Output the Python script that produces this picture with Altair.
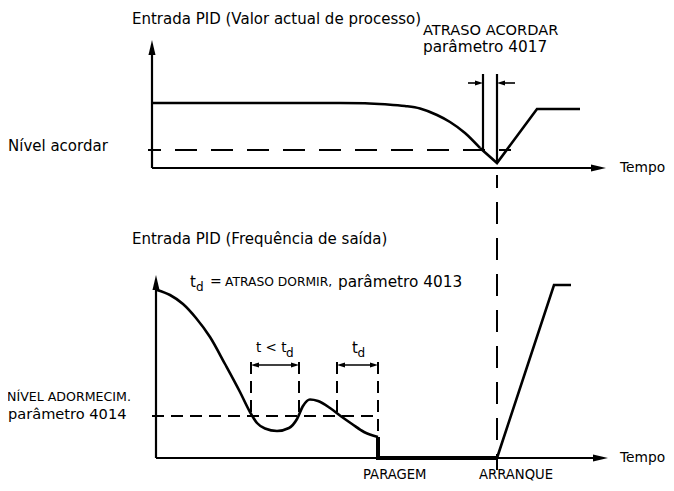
import altair as alt
import pandas as pd

FONT = "DejaVu Sans"

# ---------------- data (diagram coordinates: x right, y down) ----------------
# Top panel: process value curve (smooth part, then linear V and plateau)
top_curve_x = [152, 340, 365, 385, 405, 420, 437, 450, 465, 480]
top_curve_y = [103, 103, 103.3, 104.3, 106, 108.5, 115, 122, 133, 148]
top_lin_x = [480, 497, 537, 580]
top_lin_y = [148, 163, 109, 109]

# Bottom panel: output frequency curve (smooth), stop segment, restart ramp
bot_curve_x = [157, 170, 183, 196, 210, 225, 240, 250, 257, 265, 277, 289, 297, 303, 310, 318, 330, 342, 352, 364, 378]
bot_curve_y = [290, 295, 304, 318, 337, 364, 392, 412, 423, 428.5, 431, 428, 419, 406, 399.5, 401, 408, 417, 424, 432, 437]
stop_x = [378, 378, 497]
stop_y = [437, 458, 458]
ramp_x = [497, 554, 571]
ramp_y = [458, 285, 285]

# axes (x0, y0, x1, y1)
axes_lines = [
    (152, 168, 152, 52),   # top y axis
    (152, 168, 593, 168),  # top x axis
    (156, 458, 156, 287),  # bottom y axis
    (156, 458, 595, 458),  # bottom x axis
]
# wake-up delay markers
marker_lines = [
    (483, 74, 483, 150.6),
    (497, 74, 497, 163),
]
thin_lines = [
    (468, 83, 479, 83),
    (501, 83, 515, 83),
    (254, 365, 296, 365),
    (340, 365, 375, 365),
]
long_dashed = [
    (148, 150, 511, 150),  # wake-up level
    (497, 175, 497, 470),  # start marker
]
short_dashed = [
    (152, 416, 378, 416),  # sleep level
    (251, 362, 251, 416),
    (299, 362, 299, 416),
    (337, 362, 337, 416),
    (378, 362, 378, 436),
]

# arrowheads: tip x, tip y, angle
big_heads_x = [152, 606, 156, 608]
big_heads_y = [40, 168, 275, 458]
big_heads_a = [270, 0, 270, 0]
small_heads_x = [483, 497, 251, 299, 337, 378]
small_heads_y = [83, 83, 365, 365, 365, 365]
small_heads_a = [0, 180, 180, 0, 180, 0]

# texts
text_labels = [
    "Entrada PID (Valor actual de processo)", "ATRASO ACORDAR", "parâmetro 4017",
    "Nível acordar", "Tempo",
    "Entrada PID (Frequência de saída)",
    "t", "d", "=", "ATRASO DORMIR,", "parâmetro 4013",
    "t < t", "d", "t", "d",
    "NÍVEL ADORMECIM.", "parâmetro 4014", "Tempo", "PARAGEM", "ARRANQUE",
]
text_x = [132, 423, 423, 8, 620, 132, 190, 196, 210, 225, 338, 256, 286, 352, 357.5, 7, 8, 620, 363, 479]
text_y = [19, 31, 47, 146, 168, 239, 282, 287, 282, 282, 282, 348, 353, 348, 353, 397, 415, 458, 475, 475]
text_size = [15, 14.6, 15.3, 15, 13.8, 15, 15, 12, 14, 12.3, 15.3, 13.5, 12, 15, 12, 12.6, 14.6, 13.8, 13.2, 13.2]


# ---------------- build tables ----------------
def poly(rows, xs, ys, pid):
    for i, (x, y) in enumerate(zip(xs, ys)):
        rows.append({"id": pid, "ord": i, "x": x, "y": y})


def seg_table(segs, prefix):
    rows = []
    for k, (x0, y0, x1, y1) in enumerate(segs):
        poly(rows, [x0, x1], [y0, y1], f"{prefix}{k}")
    return pd.DataFrame(rows)


curve_rows = []
poly(curve_rows, top_curve_x, top_curve_y, "top")
poly(curve_rows, bot_curve_x, bot_curve_y, "bot")
curves = pd.DataFrame(curve_rows)

lin_rows = []
poly(lin_rows, top_lin_x, top_lin_y, "toplin")
poly(lin_rows, ramp_x, ramp_y, "ramp")
linear = pd.DataFrame(lin_rows)

stop_rows = []
poly(stop_rows, stop_x, stop_y, "stop")
stop = pd.DataFrame(stop_rows)

axes_df = seg_table(axes_lines, "ax")
markers_df = seg_table(marker_lines, "mk")
thin_df = seg_table(thin_lines, "th")
long_df = seg_table(long_dashed, "ld")
short_df = seg_table(short_dashed, "sd")

big_heads = pd.DataFrame({"x": big_heads_x, "y": big_heads_y, "a": big_heads_a})
small_heads = pd.DataFrame({"x": small_heads_x, "y": small_heads_y, "a": small_heads_a})
texts = pd.DataFrame({"x": text_x, "y": text_y, "t": text_labels, "s": text_size})

X = alt.X("x:Q", scale=alt.Scale(domain=[8, 666], nice=False, zero=False), axis=None)
Y = alt.Y("y:Q", scale=alt.Scale(domain=[483, 8], nice=False, zero=False), axis=None)


def lines(df, **kw):
    return alt.Chart(df).mark_line(color="black", **kw).encode(
        x=X, y=Y, detail="id:N", order="ord:Q"
    )


layers = [
    lines(curves, strokeWidth=2.6, interpolate="monotone"),
    lines(linear, strokeWidth=2.6),
    lines(stop, strokeWidth=4, strokeJoin="miter"),
    lines(axes_df, strokeWidth=2.2),
    lines(markers_df, strokeWidth=2.2),
    lines(thin_df, strokeWidth=1.6),
    lines(long_df, strokeWidth=2, strokeDash=[22, 14], strokeDashOffset=9),
    lines(short_df, strokeWidth=2, strokeDash=[12, 7]),
    alt.Chart(big_heads).mark_point(
        shape="M 0 0 L -2 -0.47 L -2 0.47 Z", filled=True, color="black", opacity=1, size=225
    ).encode(x=X, y=Y, angle=alt.Angle("a:Q", scale=None)),
    alt.Chart(small_heads).mark_point(
        shape="M 0 0 L -2 -0.65 L -2 0.65 Z", filled=True, color="black", opacity=1, size=64
    ).encode(x=X, y=Y, angle=alt.Angle("a:Q", scale=None)),
    alt.Chart(texts).mark_text(
        align="left", baseline="middle", font=FONT, color="black"
    ).encode(x=X, y=Y, text="t:N", size=alt.Size("s:Q", scale=None)),
]

chart = (
    alt.layer(*layers)
    .properties(width=658, height=475, autosize=alt.AutoSizeParams(type="none"), padding=0)
    .configure_view(stroke=None)
)

chart.save("out.html", embed_options={"renderer": "svg", "actions": False})
